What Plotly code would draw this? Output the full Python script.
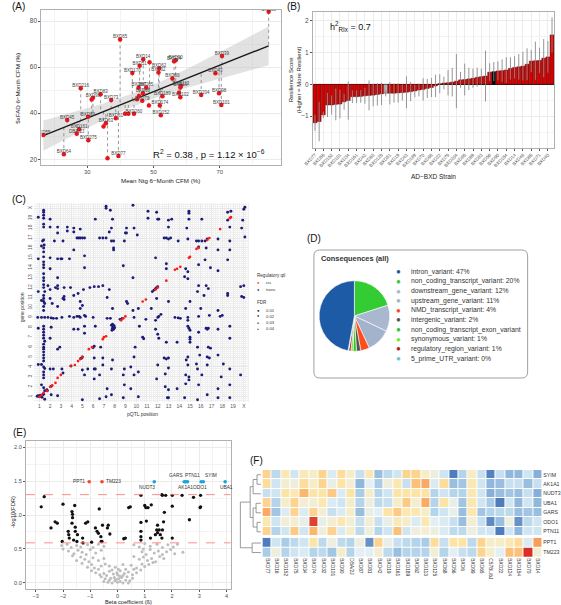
import numpy as np
import plotly.graph_objects as go

W, H = 561, 605
FONT = "Liberation Sans"


def X(px):
    return px / W


def Y(py):
    return 1 - py / H


# ---------------- Panel A data ----------------
a_names = ["BXD33", "BXD65", "BXD39", "BXD14", "BXD16", "BXD24", "BXD90", "BXD51", "BXD32", "BXD62",
           "BXD170", "BXD43", "BXD69", "BXD113", "BXD19", "BXD22", "BXD102", "BXD204", "BXD98", "BXD101",
           "BXD85", "BXD87", "BXD68", "BXD75", "BXD81", "BXD70", "BXD189", "BXD174", "BXD152", "BXD34",
           "BXD260", "BXD42", "BXD6", "BXD61", "BXD73", "BXD83", "BXD216", "BXD99", "BXD66", "BXD89",
           "BXD63", "BXD125", "BXD45", "BXD161", "DBA/2J", "BXD275", "BXD55", "BXD64", "BXD77", "BXD124"]
a_ntg = [84.8, 39.9, 70.7, 46.9, 48.8, 56.2, 56.7, 45.8, 51.5, 51.7,
         43.6, 68.7, 55.7, 58.3, 58.1, 57.7, 58.1, 64.4, 69.8, 70.5,
         47.8, 45.5, 46.8, 45.6, 45.0, 46.6, 52.7, 51.9, 52.2, 48.6,
         44.1, 41.4, 42.4, 38.6, 37.2, 34.0, 28.0, 31.7, 31.3, 30.2,
         35.6, 34.9, 23.9, 27.5, 26.8, 30.3, 16.7, 22.9, 39.4, 36.1]
a_fad = [84.0, 72.0, 64.8, 63.4, 62.1, 62.6, 63.0, 60.6, 57.7, 59.5,
         57.4, 57.3, 55.1, 51.8, 51.2, 48.9, 46.9, 47.9, 48.6, 43.6,
         51.2, 51.2, 48.6, 47.5, 46.0, 45.4, 47.3, 43.3, 39.1, 43.3,
         39.7, 39.7, 39.7, 37.8, 45.7, 48.2, 50.8, 46.7, 45.9, 38.5,
         35.6, 34.2, 37.0, 33.0, 31.1, 28.2, 30.5, 22.2, 21.4, 20.4]
a_shown = [1, 1, 1, 1, 0, 1, 1, 1, 1, 1,
           1, 1, 1, 1, 1, 0, 1, 1, 1, 1,
           1, 1, 1, 0, 0, 1, 1, 1, 1, 0,
           1, 0, 0, 1, 1, 1, 1, 1, 0, 1,
           1, 0, 1, 1, 1, 1, 1, 1, 1, 0]
a_stat_text = "R<sup>2</sup> = 0.38 , p = 1.12 × 10<sup>−6</sup>"

# ---------------- Panel B data ----------------
b_strains = ["BXD77", "BXD64", "BXD55", "BXD16", "BXD152", "BXD174", "BXD101", "BXD275", "BXD34", "BXD45",
             "BXD161", "BXD124", "BXD42", "BXD102", "BXD63", "BXD61", "BXD125", "DBA/2J", "BXD81", "BXD6",
             "BXD19", "BXD62", "BXD43", "BXD260", "BXD189", "BXD68", "BXD70", "BXD89", "BXD98", "BXD87",
             "BXD22", "BXD113", "BXD75", "BXD66", "BXD204", "BXD99", "BXD85", "BXD170", "BXD69", "BXD73",
             "BXD83", "BXD32", "BXD56", "C57BL/6J", "BXD90", "BXD51", "BXD154", "BXD216", "BXD14", "BXD24",
             "BXD48", "BXD39", "BXD65", "BXD100", "BXD71", "BXD29", "BXD40", "BXD33"]
b_score = [-1.21, -1.17, -0.96, -0.65, -0.65, -0.63, -0.62, -0.55, -0.51, -0.39,
           -0.39, -0.38, -0.36, -0.35, -0.34, -0.32, -0.30, -0.28, -0.28, -0.28,
           -0.27, -0.26, -0.25, -0.23, -0.21, -0.18, -0.16, -0.13, -0.10, -0.05,
           0.02, 0.04, 0.05, 0.07, 0.10, 0.14, 0.15, 0.17, 0.19, 0.22,
           0.24, 0.26, 0.38, 0.40, 0.42, 0.43, 0.45, 0.50, 0.53, 0.55,
           0.57, 0.63, 0.73, 0.74, 0.75, 0.82, 0.86, 1.55]
b_err = [0.25, 0.62, 0.10, 0.38, 0.30, 0.50, 0.45, 0.25, 0.60, 0.20,
         0.20, 0.20, 0.25, 0.47, 0.35, 0.35, 0.35, 0.10, 0.35, 0.30,
         0.30, 0.25, 0.50, 0.30, 0.20, 0.20, 0.35, 0.30, 0.30, 0.35,
         0.30, 0.20, 0.40, 0.45, 0.85, 0.25, 0.50, 0.35, 0.30, 0.30,
         0.25, 0.80, 0.28, 0.30, 0.30, 0.35, 0.40, 0.35, 0.35, 0.40,
         0.45, 0.50, 0.35, 0.60, 0.40, 0.60, 0.50, 0.55]
b_special = {"DBA/2J": "#b3b3b3", "C57BL/6J": "#000000"}

# ---------------- Panel C data ----------------
c_trans = [
    (7.2, 20.2), (7.2, 20.0), (7.6, 19.8), (9.7, 20.3), (11.1, 19.7), (11.9, 19.6), (14.9, 19.7), (14.9, 19.5),
    (18.5, 19.6), (18.8, 19.7), (20.0, 19.9), (20.1, 20.1), (1.4, 19.8), (1.4, 19.6),
    (0.9, 19.1), (1.4, 19.3), (1.4, 19.0), (2.0, 18.9), (6.2, 18.9), (7.8, 18.9), (11.1, 19.0), (12.0, 18.9),
    (12.1, 18.9), (13.0, 18.8), (13.3, 18.9), (14.9, 18.9), (16.1, 18.9), (18.5, 18.8), (19.9, 18.8),
    (1.4, 18.1), (2.0, 18.1), (2.7, 18.1), (3.6, 18.1), (4.2, 18.0), (4.8, 17.9), (7.7, 18.0), (9.1, 18.0),
    (9.8, 18.0), (13.0, 18.1), (14.7, 18.0), (18.7, 18.1), (19.8, 18.0), (1.4, 18.4),
    (2.7, 17.5), (3.6, 17.7), (4.2, 17.6), (7.5, 17.6), (9.0, 17.5), (9.1, 17.5), (10.1, 17.3),
    (4.5, 17.0), (4.65, 17.0), (4.8, 17.0), (5.0, 17.0), (5.2, 17.0), (1.3, 16.7), (1.4, 16.8), (2.4, 16.7),
    (3.2, 16.7), (6.6, 17.0), (6.9, 17.0), (7.2, 17.0), (7.7, 16.7), (7.9, 16.7), (8.9, 16.7), (12.6, 17.0),
    (12.8, 17.0), (13.0, 16.9), (13.2, 17.0), (13.9, 16.7), (14.8, 16.9), (15.6, 16.7), (15.8, 16.7),
    (16.1, 16.7), (16.4, 16.7), (16.6, 16.9), (17.6, 16.9), (18.7, 16.7), (20.1, 17.1),
    (1.2, 16.2), (1.4, 16.0), (1.45, 16.3), (4.2, 15.8), (7.9, 16.0), (7.9, 15.8), (15.8, 16.1), (16.5, 16.0),
    (17.6, 15.8), (18.7, 15.8), (1.4, 15.6),
    (0.9, 14.9), (1.4, 15.1), (2.0, 15.0), (2.7, 14.9), (3.0, 14.9), (3.1, 14.9), (3.8, 14.9), (5.2, 15.2),
    (11.8, 15.0), (16.4, 14.8), (18.5, 14.8), (1.4, 14.6),
    (1.4, 14.0), (1.4, 14.3), (2.0, 13.9), (5.2, 14.0), (8.8, 14.2), (12.8, 14.4), (12.8, 13.9), (14.6, 13.9),
    (14.8, 13.6), (15.8, 14.3), (16.9, 14.0), (17.6, 13.7),
    (1.4, 13.4), (1.4, 13.0), (1.4, 12.7), (2.7, 13.0), (9.7, 13.0), (14.5, 13.1), (14.8, 12.9),
    (1.4, 12.3), (1.4, 12.0), (1.5, 11.6), (1.8, 12.2), (2.0, 11.8), (2.5, 12.0), (2.7, 12.2), (2.7, 11.9),
    (3.3, 12.0), (3.9, 12.0), (4.6, 11.4), (5.1, 11.8), (5.7, 12.0), (6.1, 12.1), (6.5, 12.1), (6.9, 12.2),
    (7.5, 11.8), (11.5, 11.6), (11.65, 11.75), (11.8, 11.9), (11.9, 12.0), (12.0, 12.1), (15.8, 12.2),
    (16.5, 12.2), (16.7, 11.9), (15.7, 11.6), (19.7, 12.1), (20.0, 12.2), (18.5, 11.4), (0.9, 11.6),
    (1.2, 10.7), (1.4, 11.2), (1.4, 10.9), (1.4, 10.6), (1.5, 10.4), (2.0, 10.9), (2.2, 10.4), (3.2, 10.9),
    (3.3, 11.1), (3.3, 10.8), (4.2, 11.2), (4.8, 10.6), (5.0, 10.2), (7.3, 11.0), (9.1, 10.6), (9.2, 10.4),
    (11.9, 10.9), (13.0, 10.6), (15.0, 10.6), (16.3, 11.2), (18.5, 11.2), (19.8, 11.1), (20.0, 11.0),
    (1.4, 10.1), (1.4, 9.7), (2.7, 10.1), (4.8, 9.9), (7.8, 9.9), (9.7, 9.7), (10.2, 9.9), (11.4, 9.9),
    (14.6, 9.9), (16.0, 9.9), (17.6, 9.7),
    (0.85, 9.0), (1.2, 9.0), (1.5, 9.0), (1.8, 9.0), (2.1, 8.95), (2.3, 8.9), (2.6, 8.9), (3.1, 9.0),
    (3.8, 9.1), (4.2, 9.0), (4.5, 9.1), (4.7, 9.1), (4.8, 9.0), (5.2, 9.2), (5.3, 9.1), (6.0, 9.0),
    (7.3, 8.9), (7.6, 8.9), (8.5, 8.8), (8.7, 8.9), (9.8, 9.0), (10.9, 8.8), (12.0, 9.0), (12.1, 9.1),
    (12.3, 9.3), (11.8, 8.7), (13.6, 9.0), (13.9, 8.95), (14.1, 8.9), (14.8, 9.0), (14.8, 8.7), (15.8, 9.1),
    (16.8, 9.2), (17.8, 9.1), (18.0, 9.2),
    (0.9, 7.9), (1.4, 8.1), (1.4, 7.8), (1.4, 7.5), (2.1, 8.0), (4.2, 7.8), (4.6, 7.8), (5.2, 8.1),
    (6.2, 8.1), (7.7, 8.2), (7.8, 7.9), (7.85, 8.05), (7.9, 7.8), (7.95, 8.15), (8.0, 7.95), (7.75, 7.7),
    (7.8, 8.3), (7.9, 8.0), (10.3, 8.1), (11.8, 7.8), (14.8, 8.1), (14.9, 7.9), (15.0, 7.7), (15.8, 7.5),
    (16.5, 7.9), (16.6, 7.8), (16.7, 7.9), (17.6, 7.8), (18.7, 8.1),
    (1.4, 7.2), (1.4, 6.9), (1.5, 6.6), (2.0, 6.9), (5.2, 7.4), (10.6, 7.0), (10.7, 6.85), (12.0, 7.3),
    (12.1, 6.9), (12.8, 6.5), (13.8, 6.5), (15.0, 7.0), (15.0, 6.8), (15.0, 6.5), (18.7, 6.9),
    (1.4, 6.3), (1.4, 6.0), (1.4, 5.8), (1.4, 5.5), (2.7, 5.8), (2.9, 6.0), (6.1, 6.1), (6.0, 5.95),
    (6.7, 6.0), (9.9, 6.0), (15.7, 6.0), (16.7, 6.0), (16.9, 5.9),
    (1.4, 5.2), (1.4, 4.9), (1.4, 4.6), (4.85, 4.85), (5.0, 5.0), (4.95, 4.9), (6.1, 4.9), (6.9, 4.9),
    (7.8, 4.7), (9.8, 5.0), (12.6, 4.9), (12.8, 4.8), (13.0, 4.9), (14.8, 5.0), (14.65, 4.7), (15.9, 5.2),
    (16.6, 5.0), (16.8, 4.9), (17.6, 5.2),
    (0.9, 4.25), (1.2, 4.25), (1.4, 4.0), (1.5, 3.85), (2.0, 3.8), (2.3, 3.8), (3.1, 3.8), (3.95, 4.1),
    (5.0, 3.7), (5.5, 3.8), (6.1, 3.8), (6.2, 3.8), (6.9, 4.2), (7.7, 3.8), (8.9, 3.8), (9.5, 4.0),
    (12.0, 4.2), (13.0, 3.9), (14.8, 4.2), (15.6, 4.3), (15.7, 3.8), (16.6, 4.2), (18.1, 4.3), (18.7, 3.8),
    (1.4, 3.5), (1.4, 3.2), (1.4, 2.9), (3.2, 3.4), (5.2, 3.2), (6.1, 2.8), (6.6, 3.2), (8.8, 3.2),
    (9.8, 3.2), (10.2, 3.5), (11.9, 2.8), (12.7, 3.3), (14.6, 3.2), (14.9, 3.0), (14.9, 2.7), (16.1, 3.2),
    (17.9, 3.0), (19.7, 3.2),
    (1.2, 2.2), (1.4, 1.9), (1.5, 1.6), (1.7, 1.7), (1.75, 1.6), (2.1, 2.05), (7.3, 1.8), (8.9, 2.2),
    (9.5, 1.8), (12.7, 2.0), (13.0, 1.7), (13.8, 1.8), (14.6, 2.3), (15.8, 2.2), (17.6, 1.8), (18.7, 2.2),
    (0.8, 1.05), (0.9, 1.1), (1.0, 1.0), (1.1, 1.15), (1.2, 1.05), (1.3, 1.2), (1.4, 1.25), (1.25, 0.95),
    (1.5, 0.75), (2.1, 1.2), (2.7, 1.1), (5.0, 0.7), (6.6, 0.8), (7.2, 1.0), (7.7, 1.2), (8.8, 0.9),
    (10.2, 1.0), (12.9, 0.9), (13.0, 0.9), (14.5, 0.9), (15.7, 0.7), (16.6, 1.2), (17.6, 0.9), (18.7, 0.9),
]
c_cis = [(1.0, 1.0), (1.2, 1.15), (1.4, 1.4), (1.7, 1.6), (2.0, 2.0), (2.2, 2.15), (2.5, 2.4), (2.7, 2.9),
         (3.0, 3.2), (3.9, 4.1), (4.3, 4.2), (4.6, 4.6), (4.8, 4.8), (5.0, 5.0), (5.6, 5.8), (5.9, 6.0),
         (6.9, 6.8), (7.0, 7.0), (7.2, 7.1), (8.6, 8.7), (8.8, 8.9), (9.0, 9.1), (10.6, 10.6), (10.9, 10.8),
         (11.8, 11.8), (12.0, 12.0), (12.8, 12.7), (13.6, 13.8), (13.8, 13.9), (14.1, 14.1), (14.9, 15.0),
         (15.0, 15.1), (15.6, 15.9), (15.8, 16.0), (16.6, 16.8), (16.8, 17.0), (17.8, 17.9), (18.7, 19.0),
         (18.8, 19.1)]
c_chrom = [str(i) for i in range(1, 20)] + ["X"]
c_fdr_levels = ["0.01", "0.02", "0.03", "0.04"]

# ---------------- Panel D data ----------------
d_cats = ["intron_variant", "non_coding_transcript_variant", "downstream_gene_variant",
          "upstream_gene_variant", "NMD_transcript_variant", "intergenic_variant",
          "non_coding_transcript_exon_variant", "synonymous_variant", "regulatory_region_variant",
          "5_prime_UTR_variant"]
d_vals = [47, 20, 12, 11, 4, 2, 1.5, 1, 1, 0.3]
d_pct = ["47%", "20%", "12%", "11%", "4%", "2%", "", "1%", "1%", "0%"]
d_colors = ["#1d5ba6", "#33cc33", "#a9b8cf", "#a3b3cc", "#ff4d1a", "#555555",
            "#2fc42f", "#77e62a", "#a52a2a", "#6cc6cc"]
d_pie_order = [1, 2, 3, 4, 5, 6, 7, 8, 9, 0]

# ---------------- Panel E data ----------------
e_gray = [(-0.5, 0.02), (-0.35, 0.01), (-0.2, 0.0), (-0.1, 0.03), (0.0, 0.01), (0.1, 0.02), (0.2, 0.0),
          (0.3, 0.04), (0.45, 0.03), (-0.45, 0.06), (-0.25, 0.07), (0.05, 0.06), (0.15, 0.08), (0.35, 0.09),
          (-0.6, 0.09), (0.55, 0.07), (-0.05, 0.05), (0.08, 0.1), (-0.12, 0.08), (0.2, 0.11), (-0.3, 0.04),
          (0.4, 0.0), (-0.02, 0.15), (0.03, 0.2), (-0.08, 0.23),
          (-0.8, 0.15), (-0.65, 0.12), (-0.5, 0.14), (-0.4, 0.11), (-0.3, 0.17), (-0.15, 0.13), (0.0, 0.12),
          (0.1, 0.18), (0.25, 0.14), (0.4, 0.16), (0.55, 0.12), (0.7, 0.15), (0.85, 0.19), (-0.95, 0.18),
          (-0.7, 0.2), (0.6, 0.2), (-0.2, 0.19), (0.3, 0.2),
          (-1.1, 0.23), (-0.95, 0.27), (-0.85, 0.22), (-0.6, 0.25), (-0.45, 0.28), (0.5, 0.26), (0.7, 0.22),
          (0.9, 0.28), (1.0, 0.24), (1.15, 0.27), (-1.3, 0.29), (1.3, 0.3), (-0.3, 0.25), (0.2, 0.27),
          (-1.5, 0.33), (-1.35, 0.38), (-1.2, 0.35), (-1.05, 0.31), (-0.9, 0.37), (-0.7, 0.33), (0.8, 0.35),
          (0.95, 0.38), (1.1, 0.33), (1.25, 0.36), (1.4, 0.31), (1.55, 0.39), (-1.65, 0.4), (1.7, 0.36),
          (-0.5, 0.36), (0.6, 0.39),
          (-1.8, 0.47), (-1.6, 0.43), (-1.45, 0.48), (-1.3, 0.45), (-1.15, 0.42), (-1.0, 0.49), (-0.8, 0.44),
          (0.9, 0.46), (1.05, 0.42), (1.2, 0.49), (1.35, 0.44), (1.5, 0.47), (1.65, 0.42), (1.8, 0.46),
          (1.95, 0.49), (2.1, 0.43), (-2.0, 0.5), (-0.6, 0.48), (2.4, 0.45),
          (-2.05, 0.55), (-1.85, 0.57), (-1.7, 0.52), (-1.5, 0.55), (-1.35, 0.53), (-1.1, 0.56), (-0.9, 0.52),
          (-0.7, 0.57), (-0.5, 0.54), (0.6, 0.56), (0.8, 0.53), (1.0, 0.58), (1.2, 0.54), (1.45, 0.57),
          (1.65, 0.52), (1.85, 0.56), (2.05, 0.53), (2.2, 0.57), (-1.25, 0.58), (0.95, 0.5)]
e_black = [(-2.69, 1.27), (-2.80, 1.12), (-2.44, 0.81), (-2.29, 0.90), (-2.21, 0.88), (-2.0, 1.16),
           (-2.03, 0.61), (-1.81, 0.76), (-1.79, 0.71), (-1.77, 0.66), (-1.67, 1.05), (-1.65, 1.01),
           (-1.65, 0.96), (-1.67, 0.88), (-1.57, 1.14), (-1.55, 0.82), (-1.55, 0.76), (-1.61, 0.63),
           (-1.49, 0.61), (-1.47, 0.71), (-1.28, 0.66), (-1.27, 0.59), (-1.17, 0.88), (-1.09, 0.90),
           (-0.95, 0.60), (-0.81, 0.81), (-0.75, 0.76), (-0.70, 0.73), (-0.67, 1.09), (-0.61, 0.68),
           (-0.57, 0.61), (-0.60, 0.61), (-0.55, 0.85), (-0.37, 0.81), (-0.34, 0.85), (-0.28, 0.72),
           (0.23, 0.65), (0.29, 0.66), (0.41, 1.11), (0.47, 1.12), (0.86, 1.29), (0.86, 0.89), (0.86, 0.76),
           (0.86, 0.68), (0.86, 0.63), (1.00, 1.14), (1.04, 1.11), (1.12, 1.11), (1.24, 1.15), (1.06, 0.91),
           (1.21, 0.66), (1.39, 0.71), (1.44, 0.78), (1.47, 0.85), (1.47, 0.74), (1.53, 0.78), (1.57, 0.71),
           (1.63, 1.30), (1.65, 1.29), (1.65, 0.78), (1.69, 0.90), (1.72, 1.04), (1.77, 1.29), (1.63, 0.66),
           (2.01, 1.29), (2.01, 1.13), (2.01, 0.66), (2.37, 1.29), (2.64, 0.93), (2.79, 1.26), (3.05, 1.29),
           (3.05, 1.12), (3.03, 1.11)]
e_hits_neg = [("PPT1", -1.04, 1.49), ("TM223", -0.57, 1.49)]
e_hits_pos = [("NUDT3", 1.35, 1.49), ("GARS", 2.45, 1.49), ("AK1A1", 2.50, 1.49), ("PTN11", 2.57, 1.49),
              ("ODO1", 3.07, 1.49), ("SYIM", 3.15, 1.49), ("UBA1", 3.95, 1.49)]
e_label_side = {"PPT1": "left", "TM223": "right", "NUDT3": "below", "GARS": "above", "AK1A1": "below",
                "PTN11": "above", "ODO1": "below", "SYIM": "above", "UBA1": "below"}
e_label_shift = {"PPT1": 0, "TM223": 0, "NUDT3": -0.25, "GARS": -0.30, "AK1A1": -0.02, "PTN11": 0.18,
                 "ODO1": -0.06, "SYIM": 0.27, "UBA1": 0.05}
e_thresholds = [1.30, 0.59]

# ---------------- Panel F data ----------------
f_cols = ["BXD77", "BXD16", "BXD152", "BXD75", "BXD34", "BXD74", "BXD32", "BXD101", "BXD90", "DBA/2J",
          "BXD87", "BXD81", "BXD42", "BXD19", "BXD161", "BXD189", "BXD62", "BXD113", "BXD125", "BXD68",
          "BXD56", "BXD6", "BXD99", "BXD65", "C57BL/6J", "BXD22", "BXD124", "BXD154", "BXD70", "BXD14"]
f_rows_top = ["SYIM", "AK1A1", "NUDT3", "UBA1", "GARS", "ODO1", "PTN11"]
f_rows_bot = ["PPT1", "TM223"]
f_SYIM = [0.8, -0.5, 0.5, -0.3, 0.4, 0.3, 0.8, -0.2, 0.7, 0.3, -0.4, 0.5, -0.9, -0.5, -0.3, 0.8, 0.8, 0.3, 0.1, -0.3, -1.8, -0.6, 0.3, -0.4, -1.7, -0.4, -1.0, -1.0, -0.3, -1.1]
f_AK1A1 = [0.7, -0.3, 0.2, 0.1, 0.7, 0.3, 0.8, 0.0, 0.6, 0.2, -1.0, -0.1, -0.7, 0.1, 0.5, -0.4, 1.0, 1.2, -0.2, 0.7, -0.9, -0.8, 0.5, -0.3, -1.0, -0.9, -0.4, -0.4, -0.9, -0.4]
f_NUDT3 = [-0.4, -0.3, 0.6, 0.5, 1.1, 0.6, 0.6, 0.9, -0.2, 0.6, -0.7, 0.3, -0.6, -0.3, 0.6, 0.6, 0.6, 0.6, -0.6, -0.3, -0.6, -0.6, 0.5, -0.3, -1.1, -0.9, -0.8, -0.9, -0.4, -1.1]
f_UBA1 = [0.8, -0.6, 0.3, 0.8, 0.2, 0.2, 0.5, -0.2, -0.3, 0.3, -0.6, 0.1, -0.5, -0.4, 0.3, 0.9, 0.2, 1.2, -0.6, 0.6, 0.0, -0.8, 0.5, -0.3, -0.7, -1.8, -0.3, -1.0, -0.3, -1.0]
f_GARS = [1.2, -0.8, -0.2, 0.8, -0.2, 0.8, 0.2, -0.4, -0.2, 0.3, -0.9, 0.0, -0.1, 0.6, 0.9, 0.5, 0.5, 0.3, -0.6, -0.3, 0.0, -0.9, 0.5, -0.8, -0.6, -0.5, -0.5, -0.9, -0.8, -0.9]
f_ODO1 = [0.5, -0.3, 0.2, 0.2, 0.0, 1.9, 0.0, 0.2, 0.5, 0.2, -0.4, 0.2, -0.4, 0.0, 0.4, 0.3, -0.2, 0.5, -0.1, -0.2, -0.4, -0.9, 0.2, -0.4, -1.6, -0.9, 0.1, -1.5, -0.5, -0.3]
f_PTN11 = [0.8, -0.6, -0.3, 0.9, -0.3, 1.1, 0.1, 0.8, -0.2, 0.3, -0.5, 0.1, -0.6, -0.3, 1.0, -0.3, 0.1, 0.2, 0.1, -0.2, -0.5, -0.5, 0.1, -0.3, -0.3, -1.8, -0.3, -1.0, -0.3, -0.3]
f_PPT1 = [-1.8, -0.3, -0.7, -0.5, -0.3, 0.6, -0.5, 0.1, -0.5, -0.6, 0.1, -1.5, 0.8, 0.0, -0.4, -0.5, -0.6, -0.7, 0.7, -0.4, 0.6, 0.6, -0.5, 0.8, 0.3, 0.3, 0.5, 0.7, -0.2, 1.3]
f_TM223 = [-0.7, 0.1, -0.6, -0.3, -0.2, -0.6, -0.5, -0.8, 0.3, -0.6, -0.1, -0.1, 0.2, -0.5, -0.9, -0.6, -0.6, -0.6, 0.2, -0.6, -0.1, -0.4, -0.5, 0.8, 0.3, -0.1, 1.0, 1.0, 2.0, 0.2]
# dendrogram: (left, right, merge height)
f_tree = (((("SYIM", "AK1A1", 4), "NUDT3", 8), (("UBA1", "GARS", 5), ("ODO1", "PTN11", 4), 8), 11),
          ("PPT1", "TM223", 9), 21)

fig = go.Figure()
annotations = []
shapes = []

AX_TXT = "#4d4d4d"
GRID = "#ebebeb"
BORDER = "#b0b0b0"


def ann(px, py, text, size, color="#222", xanchor="left", yanchor="middle", angle=0, bold=False):
    if bold:
        text = "<b>" + text + "</b>"
    annotations.append(dict(x=X(px), y=Y(py), xref="paper", yref="paper", text=text, showarrow=False,
                            xanchor=xanchor, yanchor=yanchor, textangle=angle,
                            font=dict(family=FONT, size=size, color=color)))


# ---------------- Panel A ----------------
ax = np.array(a_ntg)
ay = np.array(a_fad)
slope, icpt = np.polyfit(ax, ay, 1)
n = len(ax)
resid = ay - (slope * ax + icpt)
s = np.sqrt(np.sum(resid ** 2) / (n - 2))
sxx = np.sum((ax - ax.mean()) ** 2)
xs = np.linspace(ax.min(), ax.max(), 80)
ys = slope * xs + icpt
se = s * np.sqrt(1 / n + (xs - ax.mean()) ** 2 / sxx)
tcrit = 2.01
fig.add_trace(go.Scatter(x=np.concatenate([xs, xs[::-1]]),
                         y=np.concatenate([ys + tcrit * se, (ys - tcrit * se)[::-1]]),
                         fill="toself", fillcolor="rgba(190,190,190,0.45)", line=dict(width=0),
                         mode="lines", xaxis="x", yaxis="y", hoverinfo="skip"))
seg_x, seg_y = [], []
for xv, yv in zip(ax, ay):
    seg_x += [xv, xv, None]
    seg_y += [yv, slope * xv + icpt, None]
fig.add_trace(go.Scatter(x=seg_x, y=seg_y, mode="lines", line=dict(color="#8c8c8c", width=0.9, dash="dot"),
                         xaxis="x", yaxis="y"))
fig.add_trace(go.Scatter(x=xs, y=ys, mode="lines", line=dict(color="#1a1a1a", width=1.4), xaxis="x", yaxis="y"))
fig.add_trace(go.Scatter(x=a_ntg, y=a_fad, mode="markers", marker=dict(color="#e8141c", size=4.5),
                         xaxis="x", yaxis="y"))
lab_idx = [i for i, sh in enumerate(a_shown) if sh]
fig.add_trace(go.Scatter(x=[a_ntg[i] for i in lab_idx], y=[a_fad[i] for i in lab_idx], mode="text",
                         text=[a_names[i] for i in lab_idx], textposition="top center",
                         textfont=dict(family=FONT, size=4.5, color="#444"), xaxis="x", yaxis="y"))
ann(263, 154, a_stat_text, 9.5, color="#111", xanchor="right")

# ---------------- Panel B ----------------
b_colors = [b_special.get(sn, "#d40000") for sn in b_strains]
fig.add_trace(go.Bar(x=b_strains, y=b_score, marker=dict(color=b_colors, line=dict(color="#3a0000", width=0.4)),
                     width=0.95,
                     error_y=dict(type="data", array=b_err, visible=True, color="#8a8a8a", thickness=0.9, width=0),
                     xaxis="x2", yaxis="y2"))
ann(325, 27, "h<sup>2</sup><sub>RIx</sub> = 0.7", 9, color="#111")

# ---------------- Panel C ----------------
tx, ty = zip(*c_trans)
cx, cy = zip(*c_cis)
fig.add_trace(go.Scatter(x=tx, y=ty, mode="markers", marker=dict(color="#1c1c78", size=2.9),
                         xaxis="x3", yaxis="y3"))
fig.add_trace(go.Scatter(x=cx, y=cy, mode="markers", marker=dict(color="#ff1a1a", size=2.7),
                         xaxis="x3", yaxis="y3"))
ann(251, 275, "Regulatory qtl", 4.6, color="#333")
ann(254, 282, "●", 4, color="#ff1a1a", xanchor="center")
ann(260, 282, "cis", 4.2, color="#333")
ann(254, 289, "●", 4, color="#1c1c78", xanchor="center")
ann(260, 289, "trans", 4.2, color="#333")
ann(251, 302, "FDR", 4.6, color="#333")
for i, lv in enumerate(c_fdr_levels):
    ann(254, 310 + 6.3 * i, "●", 4.2 - 0.4 * i, color="#222", xanchor="center")
    ann(260, 310 + 6.3 * i, lv, 4.2, color="#333")

# ---------------- Panel D ----------------
fig.add_trace(go.Pie(labels=[d_cats[i] for i in d_pie_order], values=[d_vals[i] for i in d_pie_order],
                     marker=dict(colors=[d_colors[i] for i in d_pie_order], line=dict(color="white", width=0.6)),
                     sort=False, direction="clockwise", rotation=0, textinfo="none",
                     domain=dict(x=[X(316.3), X(388.3)], y=[Y(352), Y(280)]), showlegend=False))
x0, x1, y0, y1, r = X(311), X(529), Y(250), Y(378), 6
rx, ry = r / W, r / H
shapes.append(dict(type="path", xref="paper", yref="paper",
                   path=(f"M {x0 + rx} {y0} L {x1 - rx} {y0} Q {x1} {y0} {x1} {y0 - ry} "
                         f"L {x1} {y1 + ry} Q {x1} {y1} {x1 - rx} {y1} L {x0 + rx} {y1} "
                         f"Q {x0} {y1} {x0} {y1 + ry} L {x0} {y0 - ry} Q {x0} {y0} {x0 + rx} {y0} Z"),
                   line=dict(color="#a0a0a0", width=1)))
ann(316, 258, "Consequences (all)", 7.4, color="#333", bold=True)
for i, (cat, pct, col) in enumerate(zip(d_cats, d_pct, d_colors)):
    yy = 271.7 + 9.65 * i
    ann(397.5, yy, "●", 8, color=col, xanchor="center")
    ann(408, yy, cat + (": " + pct if pct else ""), 6.8, color="#333")

# ---------------- Panel E ----------------
gx, gy = zip(*e_gray)
bx, by = zip(*e_black)
fig.add_trace(go.Scatter(x=gx, y=gy, mode="markers", marker=dict(color="#bdbdbd", size=3),
                         xaxis="x4", yaxis="y4"))
fig.add_trace(go.Scatter(x=bx, y=by, mode="markers", marker=dict(color="#111111", size=3.3),
                         xaxis="x4", yaxis="y4"))
fig.add_trace(go.Scatter(x=[h[1] for h in e_hits_neg], y=[h[2] for h in e_hits_neg], mode="markers",
                         marker=dict(color="#f5452a", size=3.6), xaxis="x4", yaxis="y4"))
fig.add_trace(go.Scatter(x=[h[1] for h in e_hits_pos], y=[h[2] for h in e_hits_pos], mode="markers",
                         marker=dict(color="#1aa3d9", size=3.6), xaxis="x4", yaxis="y4"))
for thr in e_thresholds:
    shapes.append(dict(type="line", xref="x4 domain", yref="y4", x0=0, x1=1, y0=thr, y1=thr,
                       line=dict(color="#ff8080", width=0.9, dash="dash")))
for name, hx, hy in e_hits_neg + e_hits_pos:
    side = e_label_side[name]
    lx = hx + e_label_shift[name]
    if side == "left":
        d = dict(x=hx - 0.08, y=hy, xanchor="right", yanchor="middle")
    elif side == "right":
        d = dict(x=hx + 0.08, y=hy, xanchor="left", yanchor="middle")
    elif side == "above":
        d = dict(x=lx, y=hy + 0.03, xanchor="center", yanchor="bottom")
    else:
        d = dict(x=lx, y=hy - 0.02, xanchor="center", yanchor="top")
    annotations.append(dict(xref="x4", yref="y4", text=name, showarrow=False,
                            font=dict(family=FONT, size=4.8, color="#333"), **d))

# ---------------- Panel F ----------------
f_scale = [[0.0, "#3e6db3"], [0.2, "#7ea8d5"], [0.35, "#b3d4ea"], [0.47, "#e2eff6"], [0.55, "#f3eed3"],
           [0.66, "#fde3a2"], [0.78, "#fbb56b"], [0.9, "#f2753f"], [1.0, "#d7302a"]]
top_z = [f_SYIM, f_AK1A1, f_NUDT3, f_UBA1, f_GARS, f_ODO1, f_PTN11]
bot_z = [f_PPT1, f_TM223]
fig.add_trace(go.Heatmap(z=top_z, x=f_cols, y=f_rows_top, colorscale=f_scale, zmin=-2, zmax=2, showscale=False,
                         xgap=1, ygap=1, xaxis="x5", yaxis="y5"))
fig.add_trace(go.Heatmap(z=bot_z, x=f_cols, y=f_rows_bot, colorscale=f_scale, zmin=-2, zmax=2, showscale=False,
                         xgap=1, ygap=1, xaxis="x5", yaxis="y6"))

leaf_pos = {nm: i for i, nm in enumerate(f_rows_top)}
leaf_pos.update({nm: 7.18 + i for i, nm in enumerate(f_rows_bot)})
dx, dy = [], []


def walk(node):
    if isinstance(node, str):
        return leaf_pos[node], 0.0
    l, rr, h = node
    yl, hl = walk(l)
    yr, hr = walk(rr)
    dx.extend([hl, h, h, hr, None])
    dy.extend([yl, yl, yr, yr, None])
    return (yl + yr) / 2, h


walk(f_tree)
fig.add_trace(go.Scatter(x=dx, y=dy, mode="lines", line=dict(color="#808080", width=0.8),
                         xaxis="x6", yaxis="y7"))

# ---------------- Panel labels & axis titles ----------------
for lbl, px, py in [("(A)", 1, 7), ("(B)", 282, 7), ("(C)", 1, 199), ("(D)", 302, 238), ("(E)", 2, 432),
                    ("(F)", 244, 460)]:
    ann(px, py, lbl, 10, color="#111")

ann(155, 180, "Mean Ntg 6−Month CFM (%)", 6.2, color="#222", xanchor="center")
ann(8, 88, "5xFAD 6−Month CFM (%)", 6.2, color="#222", xanchor="center", angle=-90)
ann(433, 176, "AD−BXD Strain", 6.5, color="#222", xanchor="center")
ann(292, 80, "Resilience Score<br>(Higher = More Resilient)", 6, color="#222", xanchor="center", angle=-90)
ann(13.5, 307, "gene position", 5, color="#333", xanchor="center", angle=-90)
ann(136, 414, "pQTL position", 5, color="#333", xanchor="center")
ann(122, 601.5, "Beta coefficient (ß)", 5.6, color="#222", xanchor="center")
ann(4, 512, "-log10(FDR)", 5.8, color="#222", xanchor="center", angle=-90)


def frame(**kw):
    base = dict(showline=True, mirror=True, linecolor=BORDER, linewidth=1, showgrid=True, gridcolor=GRID,
                gridwidth=0.8, zeroline=False, ticks="outside", ticklen=2, tickcolor="#555",
                tickfont=dict(family=FONT, size=6.5, color=AX_TXT))
    base.update(kw)
    return base


layout = dict(
    width=W, height=H, margin=dict(l=0, r=0, t=0, b=0), paper_bgcolor="white", plot_bgcolor="white",
    showlegend=False, font=dict(family=FONT),
    xaxis=frame(domain=[X(33), X(277)], anchor="y", range=[16.1, 88.4], tickvals=[30, 50, 70],
                minor=dict(tickvals=[20, 40, 60, 80], showgrid=True, gridcolor="#f3f3f3", ticks=""),
                ticklen=1.5, tickfont=dict(family=FONT, size=5.8, color=AX_TXT)),
    yaxis=frame(domain=[Y(165), Y(10)], anchor="x", range=[17.5, 84.8], tickvals=[20, 40, 60, 80],
                minor=dict(tickvals=[30, 50, 70], showgrid=True, gridcolor="#f3f3f3", ticks="")),
    xaxis2=frame(domain=[X(310), X(556)], anchor="y2", type="category", range=[-0.5, 57.5], tickangle=-45,
                 tickfont=dict(family=FONT, size=4.6, color=AX_TXT), ticklen=1.5, gridcolor="#ececec"),
    yaxis2=frame(domain=[Y(148), Y(12)], anchor="x2", range=[-2.0, 2.27], tickvals=[-1, 0, 1, 2],
                 minor=dict(tickvals=[-1.5, -0.5, 0.5, 1.5], showgrid=True, gridcolor="#f3f3f3", ticks=""),
                 zeroline=True, zerolinecolor="#222", zerolinewidth=0.8),
    xaxis3=dict(domain=[X(26), X(245)], anchor="y3", range=[0.55, 20.5], tickvals=list(range(1, 21)),
                ticktext=c_chrom, showgrid=True, gridcolor="#e8e8e8", gridwidth=0.5, zeroline=False,
                showline=False, ticks="", tickfont=dict(family=FONT, size=5, color="#555"),
                minor=dict(dtick=0.2, tick0=0, showgrid=True, gridcolor="#f0f0f0", gridwidth=0.5)),
    yaxis3=dict(domain=[Y(402), Y(203)], anchor="x3", range=[0.47, 20.53], tickvals=list(range(1, 21)),
                ticktext=c_chrom, showgrid=True, gridcolor="#e8e8e8", gridwidth=0.5, zeroline=False,
                showline=False, ticks="", tickangle=-90, tickfont=dict(family=FONT, size=5, color="#555"),
                minor=dict(dtick=0.2, tick0=0, showgrid=True, gridcolor="#f0f0f0", gridwidth=0.5)),
    xaxis4=frame(domain=[X(17.3), X(226)], anchor="y4", range=[-3.36, 4.15], tickvals=list(range(-3, 5)),
                 minor=dict(tickvals=[-2.5, -1.5, -0.5, 0.5, 1.5, 2.5, 3.5], showgrid=True, gridcolor="#f3f3f3",
                            ticks=""), ticklen=1.5, tickfont=dict(family=FONT, size=5.6, color=AX_TXT)),
    yaxis4=frame(domain=[Y(589), Y(441)], anchor="x4", range=[-0.09, 2.09], tickvals=[0, 0.5, 1, 1.5, 2],
                 ticktext=["0.0", "0.5", "1.0", "1.5", "2.0"],
                 minor=dict(tickvals=[0.25, 0.75, 1.25, 1.75], showgrid=True, gridcolor="#f3f3f3", ticks=""),
                 tickfont=dict(family=FONT, size=5.6, color=AX_TXT)),
    xaxis5=dict(domain=[X(258.5), X(544)], anchor="y6", type="category", tickangle=90, showgrid=False,
                zeroline=False, showline=False, ticks="", tickfont=dict(family=FONT, size=4.8, color="#333")),
    yaxis5=dict(domain=[Y(536), Y(470)], anchor="x5", autorange="reversed", side="right", showgrid=False,
                zeroline=False, showline=False, ticks="", tickfont=dict(family=FONT, size=5.2, color="#333")),
    yaxis6=dict(domain=[Y(557.3), Y(537.7)], anchor="x5", autorange="reversed", side="right", showgrid=False,
                zeroline=False, showline=False, ticks="", tickfont=dict(family=FONT, size=5.2, color="#333")),
    xaxis6=dict(domain=[X(232), X(257)], anchor="y7", range=[25, 0], visible=False),
    yaxis7=dict(domain=[Y(557.3), Y(470)], anchor="x6", range=[8.68, -0.5], visible=False),
    annotations=annotations, shapes=shapes,
)
fig.update_layout(**layout)
fig.write_html("out.html")
